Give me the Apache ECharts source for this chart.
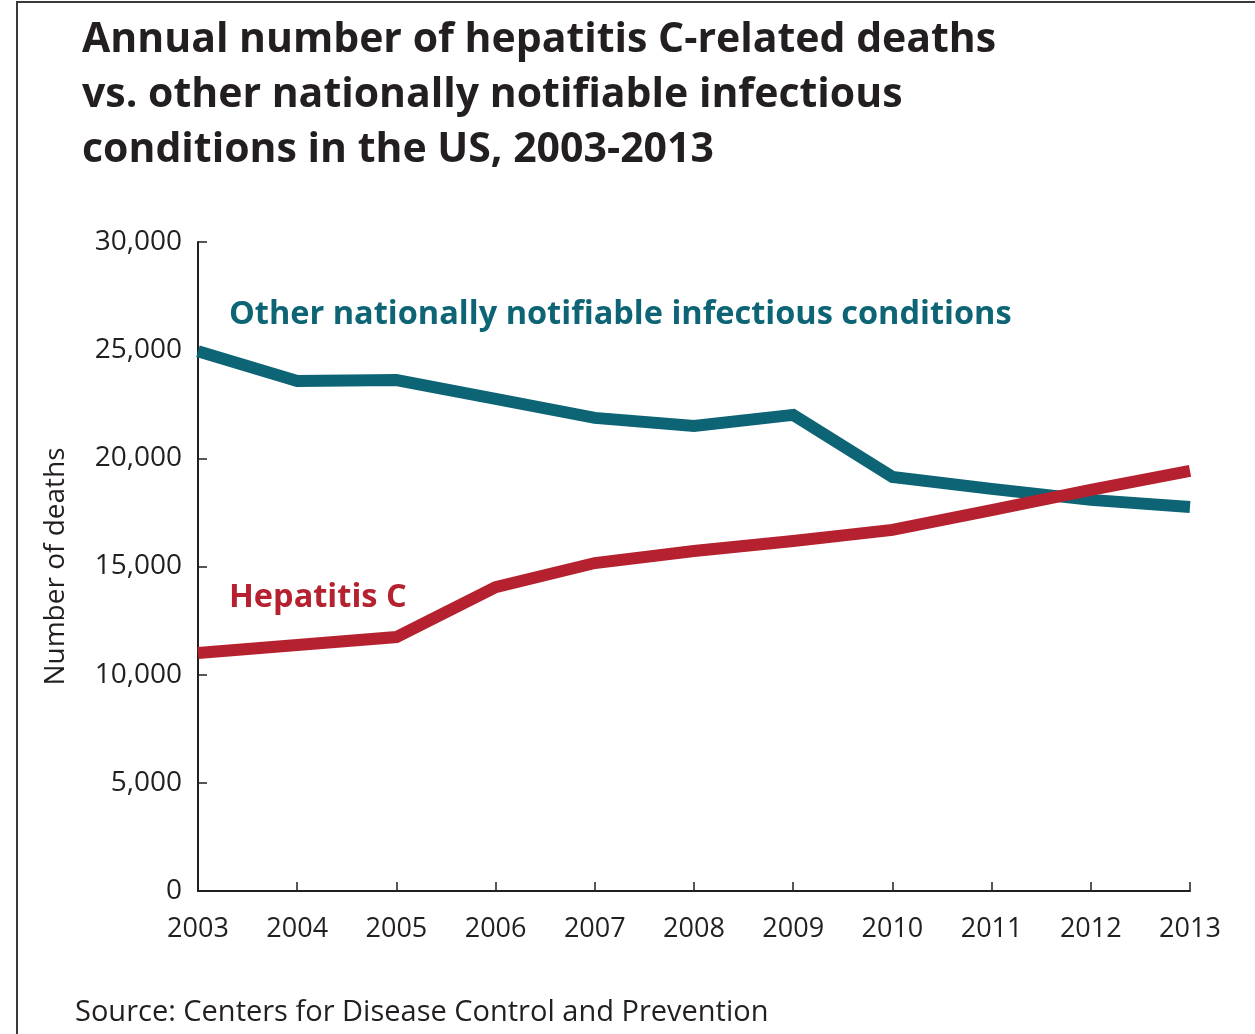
<!DOCTYPE html>
<html>
<head>
<meta charset="utf-8">
<script src="https://cdn.jsdelivr.net/npm/echarts@6/dist/echarts.min.js"></script>
<style>
  html, body { margin: 0; padding: 0; background: #fff; }
  #chart { width: 1255px; height: 1034px; }
</style>
</head>
<body>
<div id="chart"></div>
<script>
// years on the x axis
const years = ['2003', '2004', '2005', '2006', '2007', '2008', '2009', '2010', '2011', '2012', '2013']
// deaths, other nationally notifiable infectious conditions
const otherDeaths = [24950, 23580, 23620, 22750, 21870, 21500, 22010, 19140, 18590, 18080, 17750]
// deaths, hepatitis C
const hepCDeaths = [11000, 11370, 11740, 14050, 15160, 15720, 16180, 16690, 17610, 18540, 19420]

const teal = '#0d6475'
const red = '#b5212f'
const ink = '#231f20'
const font = '"Open Sans", sans-serif'

const chart = echarts.init(document.getElementById('chart'), null, { renderer: 'canvas' })

chart.setOption({
  animation: false,
  grid: { left: 198, right: 65, top: 242, bottom: 143 },
  title: {
    text: 'Annual number of hepatitis C-related deaths\nvs. other nationally notifiable infectious\nconditions in the US, 2003-2013',
    left: 77,
    top: 8,
    textStyle: { fontFamily: font, fontWeight: 'bold', fontSize: 41, lineHeight: 55, color: ink }
  },
  xAxis: {
    type: 'category',
    data: years,
    boundaryGap: false,
    axisLine: { lineStyle: { color: ink, width: 2 } },
    axisTick: { inside: true, length: 9, lineStyle: { color: ink, width: 1.5 } },
    axisLabel: { color: ink, fontFamily: font, fontSize: 27, margin: 25 },
    splitLine: { show: false }
  },
  yAxis: {
    type: 'value',
    min: 0,
    max: 30000,
    interval: 5000,
    name: 'Number of deaths',
    nameLocation: 'middle',
    nameGap: 128,
    nameTextStyle: { color: ink, fontFamily: font, fontSize: 28 },
    axisLine: { show: true, lineStyle: { color: ink, width: 2 } },
    axisTick: { show: true, inside: true, length: 9, lineStyle: { color: ink, width: 1.5 } },
    axisLabel: {
      color: ink, fontFamily: font, fontSize: 28, margin: 16,
      formatter: v => v.toLocaleString('en-US')
    },
    splitLine: { show: false }
  },
  series: [
    {
      name: 'Other nationally notifiable infectious conditions',
      type: 'line',
      data: otherDeaths,
      symbol: 'none',
      lineStyle: { color: teal, width: 12, join: 'miter' },
      z: 3
    },
    {
      name: 'Hepatitis C',
      type: 'line',
      data: hepCDeaths,
      symbol: 'none',
      lineStyle: { color: red, width: 12, join: 'miter' },
      z: 4
    }
  ],
  graphic: [
    {
      type: 'text', left: 229, top: 298,
      style: { text: 'Other nationally notifiable infectious conditions', fill: teal, font: 'bold 32.5px ' + font }
    },
    {
      type: 'text', left: 229, top: 581,
      style: { text: 'Hepatitis C', fill: red, font: 'bold 32.5px ' + font }
    },
    {
      type: 'text', left: 75, top: 998,
      style: { text: 'Source: Centers for Disease Control and Prevention', fill: ink, font: '29px ' + font }
    },
    {
      type: 'polyline',
      shape: { points: [[17, 1034], [17, 2], [1255, 2]] },
      style: { stroke: '#3a3a3a', lineWidth: 2, fill: null }
    }
  ]
})
</script>
</body>
</html>
